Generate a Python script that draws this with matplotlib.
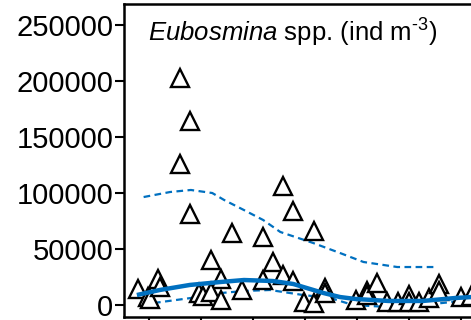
import matplotlib
matplotlib.use('Agg')
import matplotlib.pyplot as plt

plt.rcParams['font.family'] = ['Liberation Sans', 'DejaVu Sans']
plt.rcParams['mathtext.fontset'] = 'custom'
plt.rcParams['mathtext.rm'] = 'Liberation Sans'
plt.rcParams['mathtext.it'] = 'Liberation Sans:italic'

# observed densities (ind m-3)
obs_x = [1.60, 1.79, 1.60, 1.79, 2.60, 3.20, 3.58, 3.78, 4.18, 3.39,
         3.58, 2.20, 2.39, 0.80, 0.98, 1.02, 1.17, 1.21, 1.96, 2.04,
         2.20, 2.39, 2.79, 3.20, 3.78, 3.99, 4.18, 4.39, 4.39, 4.99,
         5.20, 5.20, 5.40, 5.59, 5.80, 6.00, 6.00, 6.19, 6.40, 6.59,
         6.59, 7.00, 7.19]
obs_y = [202700, 164300, 125900, 81250, 64300, 60700, 106250, 83900, 66100, 38400,
         26800, 40200, 23200, 14300, 7100, 5400, 23200, 16100, 10700, 8000,
         11600, 4500, 13400, 22300, 21400, 2700, 1800, 15200, 10700, 4500,
         12500, 8900, 19600, 2700, 2700, 8900, 2700, 2700, 6250, 18750,
         12500, 7100, 8000]

# fitted trend
fit_x = [0.77, 1.21, 1.79, 2.37, 2.83, 3.39, 3.78, 4.36, 4.68, 4.97, 5.61, 6.27, 6.90, 7.21]
fit_y = [8900, 13400, 17900, 20500, 22300, 21400, 18750, 10700, 7100, 5400, 3600, 3600, 6250, 7100]

# upper and lower bounds
up_x = [0.90, 1.41, 1.81, 2.22, 2.45, 2.83, 3.20, 3.53, 4.16, 4.68, 5.13, 5.78, 6.52]
up_y = [96400, 100900, 102700, 100000, 93750, 84800, 75900, 65200, 55400, 46400, 38400, 33900, 33900]
lo_x = [1.10, 1.81, 2.39, 2.83, 3.33, 3.97, 4.49, 4.93, 5.61, 6.27, 6.84, 7.21]
lo_y = [1800, 6250, 10700, 12500, 13400, 8900, 6250, 0, -1800, 0, 2700, 4500]

blue = '#0070C0'

fig = plt.figure(figsize=(4.71, 3.2), dpi=100)
ax = fig.add_axes([0.263, 0.0094, 0.8, 0.978])

ax.plot(up_x, up_y, color=blue, lw=1.6, ls=(0, (3, 2)))
ax.plot(lo_x, lo_y, color=blue, lw=1.6, ls=(0, (3, 2)))
ax.plot(obs_x, obs_y, ls='none', marker='^', ms=12.5, mfc='white',
        mec='black', mew=1.7, zorder=3)
ax.plot(fit_x, fit_y, color=blue, lw=3.2, solid_capstyle='butt', zorder=4)

ax.set_xlim(0.52, 7.77)
ax.set_ylim(-10714, 268750)
ax.set_xticks(range(1, 8))
ax.set_yticks([0, 50000, 100000, 150000, 200000, 250000])
ax.tick_params(axis='both', direction='out', length=6.5, width=1.5,
               labelsize=21, pad=1, color='black')
ax.tick_params(axis='x', labelbottom=False)
for s in ['left', 'top', 'bottom', 'right']:
    ax.spines[s].set_linewidth(1.8)

ax.text(0.064, 0.879, r'$\mathit{Eubosmina}$ spp. (ind m$^{\text{-3}}$)',
        transform=ax.transAxes, fontsize=18.5, va='baseline', ha='left')

fig.savefig('out.png', dpi=100)
